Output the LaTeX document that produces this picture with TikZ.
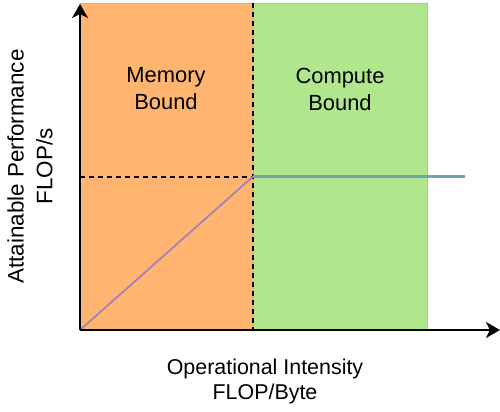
\documentclass[tikz,border=0pt]{standalone}
\usepackage{fontspec}
\setmainfont{Liberation Sans}
\usetikzlibrary{arrows.meta}
\definecolor{memfill}{HTML}{FFB570}
\definecolor{compfill}{HTML}{B0E68C}
\definecolor{regionedge}{HTML}{B8B8B8}
\definecolor{diagline}{HTML}{A680B8}
\definecolor{roofline}{HTML}{6FA3B0}
\begin{document}
\begin{tikzpicture}[x=1bp,y=-1bp,
  region/.style={draw=regionedge, line width=0.8bp},
  axis/.style={line width=2bp, -{Stealth[length=14bp,width=16bp,inset=4bp]}},
  guide/.style={dash pattern=on 5bp off 4bp, line width=2bp},
  lab/.style={align=center, inner sep=0pt, font=\fontsize{22}{27}\selectfont}]
\useasboundingbox (0,0) rectangle (500,411);
% regions
\path[region, fill=memfill] (80,3) rectangle (253,330);
\path[region, fill=compfill] (253,3) rectangle (427,330);
% key points
\coordinate (O) at (80,330);
\coordinate (K) at (253,176.5);
\coordinate (Ktop) at (253,3);
\coordinate (Kbot) at (253,330);
\coordinate (L) at (80,176.5);
\coordinate (R) at (465,176.5);
\coordinate (Ytip) at (80,4);
\coordinate (Xtip) at (500,330);
% guides
\draw[guide] (Ktop) -- (Kbot);
\draw[guide] (L) -- (K);
% roofline
\draw[diagline, line width=1.8bp] (O) -- (K);
\draw[roofline, line width=2.2bp] (K) -- (R);
% axes
\draw[axis] (O) -- (Ytip);
\draw[axis] (O) -- (Xtip);
% labels
\node[lab] (mem) at (166,89) {Memory\\Bound};
\node[lab] (comp) at (340,89) {Compute\\Bound};
\node[lab, font=\fontsize{21.5}{25}\selectfont] (xlab) at (265,381) {Operational Intensity\\FLOP/Byte};
\node[lab, rotate=90, font=\fontsize{22.5}{29}\selectfont] (ylab) at (30,166.5) {Attainable Performance\\FLOP/s};
\end{tikzpicture}
\end{document}
